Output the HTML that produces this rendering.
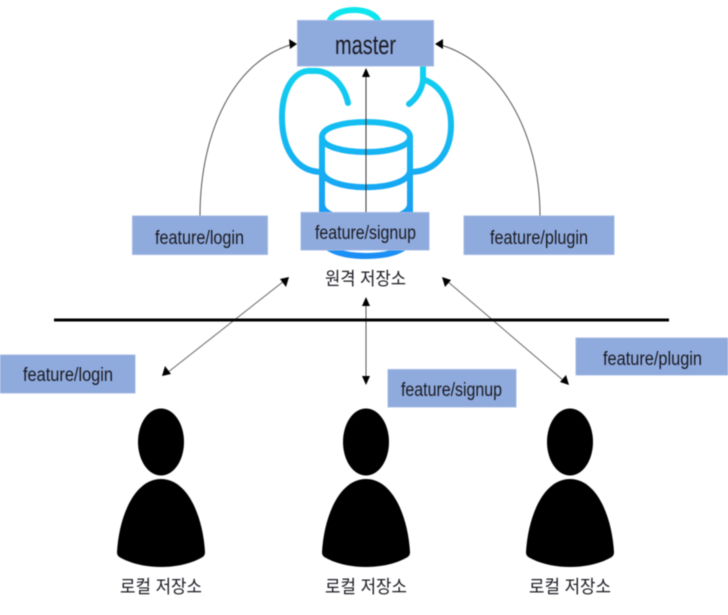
<!DOCTYPE html>
<html><head><meta charset="utf-8"><style>
html,body{margin:0;padding:0;background:#fff;width:728px;height:615px;overflow:hidden}
svg{display:block;filter:blur(.45px)}
text{font-family:"Liberation Sans","Noto Sans CJK KR",sans-serif;fill:#1a1a22}
</style></head><body>
<svg width="728" height="615" viewBox="0 0 728 615" xmlns="http://www.w3.org/2000/svg">
<defs>
<linearGradient id="g" gradientUnits="userSpaceOnUse" x1="0" y1="10" x2="0" y2="256"><stop offset="0" stop-color="#0ee6ee"/><stop offset="1" stop-color="#1b8ff5"/></linearGradient>
<g id="p"><ellipse cx="0" cy="442" rx="23" ry="33.5" fill="#000"/><path d="M0 479C-27 479-42 517-44 552C-44 556-42 557-38 559C-26 565-12 567 0 567C12 567 26 565 38 559C42 557 44 556 44 552C42 517 27 479 0 479Z" fill="#000"/></g>
</defs>
<g fill="none" stroke="url(#g)" stroke-width="6" stroke-linecap="round">
<path d="M329 22C335 6 373 6 379 22"/>
<path d="M312 71C294 69 282 90 282 117C282 150 297 172 322 172"/>
<path d="M312 71C330 69 344 85 348 103"/>
<path d="M423 66V80C422 90 416 99 409 104"/>
<path d="M425 80C441 86 451 103 451 125C451 150 438 172 410 172"/>
<path d="M322 137C322 117 410 117 410 137C410 157 322 157 322 137Z"/>
<path d="M322 137V238C322 262 410 262 410 238V137"/>
<path d="M322 170C322 193 410 193 410 170"/>
<path d="M322 204C322 226 410 226 410 204"/>
</g>
<rect x="297.500" y="20.500" width="136" height="45.500" fill="#8faadc" stroke="#a3b9e3"/>
<text x="335" y="54" font-size="27" textLength="61" lengthAdjust="spacingAndGlyphs">master</text>
<g fill="none" stroke="#555" stroke-width="1">
<path d="M200 216C200 130 235 62 290 45"/>
<path d="M540 216C540 130 498 62 441 45"/>
<path d="M366 212V76" stroke="#333"/>
<path d="M284 281L167 373" stroke="#666"/>
<path d="M366 303V379"/>
<path d="M447 281L564 381" stroke="#666"/>
</g>
<g fill="#000">
<path d="M297 44L289 39L290 49Z"/><path d="M435 44L443 39L443 49Z"/>
<path d="M366 68L362 77H370Z"/>
<path d="M289 277L280 279L286 287Z"/><path d="M162 376L171 374L165 366Z"/>
<path d="M366 297L362 306H370Z"/><path d="M366 385L362 376H370Z"/>
<path d="M442 277L451 280L445 287Z"/><path d="M569 385L560 382L566 375Z"/>
</g>
<g fill="#8faadc" stroke="#a3b9e3">
<rect x="132.500" y="216" width="135" height="38.500"/>
<rect x="301" y="212.500" width="128" height="37.500"/>
<rect x="464" y="216" width="150" height="38.500"/>
<rect x="-2" y="355" width="137" height="38"/>
<rect x="388" y="369.500" width="128" height="37.500"/>
<rect x="576" y="338" width="154" height="37"/>
</g>
<g font-size="19">
<text x="155" y="244" textLength="89" lengthAdjust="spacingAndGlyphs">feature/login</text>
<text x="315" y="239" textLength="101" lengthAdjust="spacingAndGlyphs">feature/signup</text>
<text x="490" y="244" textLength="98" lengthAdjust="spacingAndGlyphs">feature/plugin</text>
<text x="23" y="381" textLength="90" lengthAdjust="spacingAndGlyphs">feature/login</text>
<text x="401" y="396" textLength="101" lengthAdjust="spacingAndGlyphs">feature/signup</text>
<text x="603" y="365" textLength="99" lengthAdjust="spacingAndGlyphs">feature/plugin</text>
</g>
<path d="M54 320H669" stroke="#000" stroke-width="3"/>
<use href="#p" x="161"/><use href="#p" x="366"/><use href="#p" x="570"/>
<g font-size="18">
<text x="325" y="285" textLength="81" lengthAdjust="spacingAndGlyphs">원격 저장소</text>
<text x="120" y="593" textLength="82" lengthAdjust="spacingAndGlyphs">로컬 저장소</text>
<text x="325" y="593" textLength="82" lengthAdjust="spacingAndGlyphs">로컬 저장소</text>
<text x="529" y="593" textLength="82" lengthAdjust="spacingAndGlyphs">로컬 저장소</text>
</g>
</svg>
</body></html>
